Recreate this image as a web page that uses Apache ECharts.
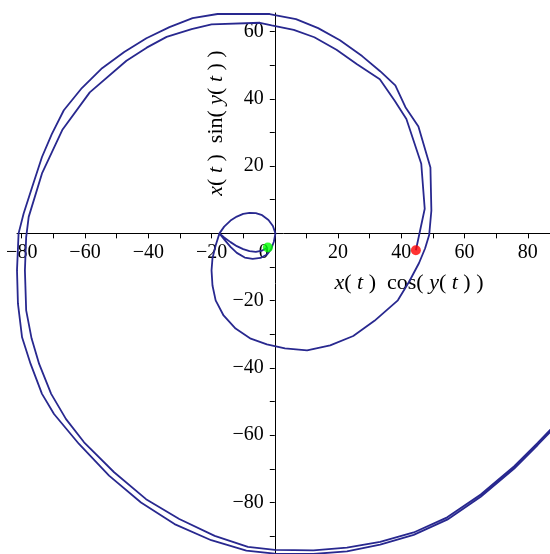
<!DOCTYPE html>
<html>
<head>
<meta charset="utf-8">
<script src="https://cdn.jsdelivr.net/npm/echarts@6/dist/echarts.min.js"></script>
<style>
    html, body { margin: 0; padding: 0; background: #fff; }
    #chart { width: 550px; height: 554px; }
</style>
</head>
<body>
<div id="chart"></div>
<script>
// 起点 / 终点
const startPoint = [-2.2, -4.2];
const endPoint = [44.6, -5.0];

// 原点附近的小环
const smallLoop = [
    [-2.2, -4.2], [-4, -5.1], [-6, -5.5], [-8, -5.3], [-10, -4.7], [-12, -3.8], [-14, -2.6], [-16, -1.2], [-17.5, 0],
    [-16, 2], [-14, 3.8], [-12, 5], [-10, 5.8], [-8, 6.1], [-6, 6.0], [-4, 5.4], [-2, 4], [-0.6, 2.2], [0.2, 0],
    [-0.3, -2.5], [-1.2, -4.8], [-2.5, -6.3], [-4.5, -7.3], [-7, -7.6], [-9.5, -7.2], [-12, -5.8], [-14, -4], [-15.8, -2], [-17.5, 0]
];

// 下方的圆
const lowerCircle = [
    [-18.7, -3.6], [-19.7, -7.4], [-20, -11], [-19.7, -15.5], [-18.7, -19.9], [-16.2, -24.4], [-12.4, -28.3],
    [-7.6, -31.3], [-2.5, -33], [3.2, -34.2], [10.2, -34.8], [17.5, -33.3], [24.8, -30.5], [31.5, -26],
    [38.9, -19.9], [42.5, -14.3], [45.6, -8.8], [47.5, -4.5], [48.8, -0.5]
];

// 外圈（第一遍）
const outerPass = [
    [49.5, 6.8], [49.2, 19.6], [45.4, 31.8], [41.3, 37.5], [38.1, 44], [33.3, 48.2], [27.6, 52.7], [20.6, 57.4],
    [13.7, 61], [6.7, 63.7], [0, 64.9], [-1.6, 65.2], [-18.1, 65.2], [-26, 64], [-33.3, 61.3], [-40.6, 58],
    [-47.6, 53.9], [-54.6, 49.1], [-61, 43.2], [-66.7, 36.6], [-70.5, 29.5], [-73.6, 22.7], [-76.7, 13.8],
    [-79.4, 5.9], [-81, 0], [-81.5, -11], [-81.2, -20.9], [-79.9, -30.9], [-77.2, -38.8], [-73.6, -47.7],
    [-69.8, -53.7], [-61.9, -62.6], [-52.4, -72], [-42.3, -80], [-31.7, -86.4], [-20.1, -91.2], [-9, -94.3],
    [0, -95.2], [12.2, -95.3], [22.8, -94.5], [33.3, -92.5], [43.9, -89.6], [54.5, -85.1], [65.1, -78.3],
    [75.7, -69.9], [83.1, -62.9], [87.3, -58.8], [92, -52]
];

// 内圈（返回）
const innerPass = [
    [92, -51.5], [87.3, -58.2], [83.1, -62.3], [75.7, -69.2], [65.1, -77.6], [54.5, -84.4], [43.9, -88.9],
    [33.3, -91.7], [22.8, -93.4], [12.2, -94.2], [0, -94.1], [-8.5, -93.2], [-19, -89.9], [-30.2, -84.9],
    [-40.7, -79], [-50.8, -71], [-60.3, -62.1], [-66, -55.2], [-70.7, -47.7], [-74.5, -38.8], [-76.9, -31.2],
    [-78.6, -22.9], [-79, -11], [-78.6, -1.1], [-77.8, 4.9], [-73.6, 17.8], [-67.2, 30.7], [-58.5, 41.9],
    [-46.9, 51.3], [-40.5, 55.2], [-34.2, 58.4], [-26.3, 60.7], [-20, 62.1], [-4.7, 62.6], [-1, 61.8],
    [6, 60.5], [12.5, 58.3], [19.5, 54.6], [26, 50.3], [33.2, 45.8], [37.9, 39.4], [41.6, 34.0],
    [46.3, 20.7], [47.4, 7.3], [44.6, -5.0]
];

// 刻度
const xTicks = [-80, -70, -60, -50, -40, -30, -20, -10, 0, 10, 20, 30, 40, 50, 60, 70, 80];
const xLabels = [-80, -60, -40, -20, 0, 20, 40, 60, 80];
const yTicks = [-90, -80, -70, -60, -50, -40, -30, -20, -10, 10, 20, 30, 40, 50, 60];
const yLabels = [-80, -60, -40, -20, 20, 40, 60];

const xRange = [-81.5, 87];
const yRange = [-95.3, 65.5];

const curve = smallLoop.concat(lowerCircle, outerPass, innerPass);

const chart = echarts.init(document.getElementById('chart'));

const serif = 'Liberation Serif, DejaVu Serif, serif';
const lineColor = '#28288f';

function fmt(v) {
    const s = String(v).replace('-', '\u2212');
    return v === 0 ? '{z|0}' : s;
}

function titleText(fn) {
    return '{i|x}{n|( }{i|t}{n| )  ' + fn + '( }{i|y}{n|( }{i|t}{n| ) )}';
}

const titleRich = {
    i: { fontFamily: serif, fontStyle: 'italic', fontSize: 22, fill: '#000' },
    n: { fontFamily: serif, fontSize: 22, fill: '#000' }
};

const option = {
    animation: false,
    backgroundColor: '#fff',
    grid: { left: 17, right: 0, top: 13, bottom: 0, outerBoundsMode: 'none', containLabel: false },
    xAxis: {
        type: 'value',
        min: xRange[0],
        max: xRange[1],
        position: 'bottom',
        offset: 0,
        splitLine: { show: false },
        axisLine: { onZero: false, lineStyle: { color: '#000', width: 1 } },
        axisTick: { show: true, length: 5, customValues: xTicks, lineStyle: { color: '#000' } },
        axisLabel: {
            customValues: xLabels,
            formatter: fmt,
            color: '#000',
            fontFamily: serif,
            fontSize: 20,
            margin: 9,
            hideOverlap: false,
            rich: { z: { fontFamily: serif, fontSize: 20, color: '#000', padding: [0, 22, 0, 0] } }
        }
    },
    yAxis: {
        type: 'value',
        min: yRange[0],
        max: yRange[1],
        position: 'left',
        offset: 0,
        splitLine: { show: false },
        axisLine: { onZero: false, lineStyle: { color: '#000', width: 1 } },
        axisTick: { show: true, length: 5, customValues: yTicks, lineStyle: { color: '#000' } },
        axisLabel: {
            customValues: yLabels,
            formatter: fmt,
            color: '#000',
            fontFamily: serif,
            fontSize: 20,
            margin: 11,
            hideOverlap: false
        }
    },
    graphic: [
        {
            type: 'text',
            x: 409,
            y: 283,
            style: { text: titleText('cos'), align: 'center', verticalAlign: 'middle', rich: titleRich }
        },
        {
            type: 'text',
            x: 216,
            y: 123,
            rotation: Math.PI / 2,
            style: { text: titleText('sin'), align: 'center', verticalAlign: 'middle', rich: titleRich }
        }
    ],
    series: [
        {
            type: 'line',
            data: curve,
            showSymbol: false,
            smooth: false,
            clip: true,
            lineStyle: { color: lineColor, width: 1.8 },
            z: 2
        },
        {
            type: 'scatter',
            data: [startPoint],
            symbolSize: 10,
            itemStyle: { color: '#00ff00' },
            z: 3
        },
        {
            type: 'scatter',
            data: [endPoint],
            symbolSize: 10,
            itemStyle: { color: '#ff0000' },
            z: 3
        }
    ]
};

chart.setOption(option);

// 坐标轴移到原点（十字交叉）
const origin = chart.convertToPixel({ gridIndex: 0 }, [0, 0]);
const corner = chart.convertToPixel({ gridIndex: 0 }, [xRange[0], yRange[0]]);
chart.setOption({
    xAxis: { offset: -(corner[1] - origin[1]) },
    yAxis: { offset: -(origin[0] - corner[0]) }
});
</script>
</body>
</html>
